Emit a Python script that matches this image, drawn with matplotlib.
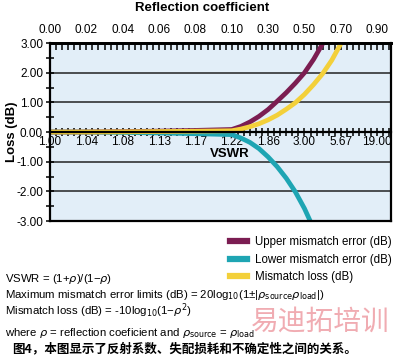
import numpy as np
import matplotlib.pyplot as plt
from matplotlib.ticker import FixedLocator, MultipleLocator, FormatStrFormatter

plt.rcParams['font.family'] = ['Liberation Sans Narrow', 'Liberation Sans', 'DejaVu Sans']

# axis labels (top: reflection coefficient, bottom: matching VSWR)
rho_labels = ['0.00', '0.02', '0.04', '0.06', '0.08', '0.10', '0.30', '0.50', '0.70', '0.90']
vswr_labels = ['1.00', '1.04', '1.08', '1.13', '1.17', '1.22', '1.86', '3.00', '5.67', '19.00']

# curve points, x = position along the reflection-coefficient scale (tick index)
pos = [0, 1, 2, 3, 4, 5, 5.25, 5.5, 5.75, 6, 6.25, 6.5, 6.75, 7, 7.25, 7.5, 7.75, 8]
upper = [0, 0.003, 0.014, 0.031, 0.055, 0.086, 0.19, 0.34, 0.53, 0.76, 1.04, 1.33,
         1.65, 2.0, 2.45, 2.98, 3.6, 4.2]
lower = [0, -0.003, -0.014, -0.031, -0.056, -0.087, -0.20, -0.35, -0.56, -0.84, -1.17,
         -1.56, -2.02, -2.58, -3.25, -3.95, -4.7, -5.5]
loss = [0, 0.002, 0.007, 0.016, 0.028, 0.044, 0.10, 0.18, 0.28, 0.41, 0.57, 0.77,
        0.99, 1.27, 1.60, 1.97, 2.42, 2.98]

purple = '#7b1d52'
teal = '#1ea5b3'
yellow = '#f3d03a'

fig = plt.figure(figsize=(4, 3.62), dpi=100)
ax = fig.add_axes([0.125, 0.3895, 0.8525, 0.4915])
ax.set_facecolor('#e2eef8')

ax.plot(pos, lower, color=teal, lw=3.4, solid_capstyle='butt', zorder=2)
ax.plot(pos, upper, color=purple, lw=3.4, solid_capstyle='butt', zorder=2.1)
ax.plot(pos, loss, color=yellow, lw=3.4, solid_capstyle='butt', zorder=2.2)

ax.set_xlim(0, 9.38)
ax.set_ylim(-3, 3)

for yv in [-2, -1, 1, 2]:
    ax.axhline(yv, color='#222222', lw=1.1, zorder=1)
ax.axhline(-3, color='black', lw=1.6, clip_on=False, zorder=3)

# bottom axis sits on the zero line
ax.spines['bottom'].set_position(('data', 0))
for s in ['left', 'bottom', 'right']:
    ax.spines[s].set_linewidth(1.6)
ax.spines['top'].set_linewidth(2.0)

ax.xaxis.set_major_locator(FixedLocator(range(10)))
ax.xaxis.set_minor_locator(MultipleLocator(1 / 6))
ax.set_xticklabels(vswr_labels)
ax.tick_params(axis='x', which='both', direction='inout', length=6, width=1.1,
               labelsize=8.5, pad=0)

ax.yaxis.set_major_locator(MultipleLocator(1))
ax.yaxis.set_minor_locator(MultipleLocator(0.5))
ax.yaxis.set_major_formatter(FormatStrFormatter('%.2f'))
ax.tick_params(axis='y', which='both', direction='inout', length=6, width=1.1,
               labelsize=8.5, pad=2)

top = ax.secondary_xaxis('top')
top.xaxis.set_major_locator(FixedLocator(range(10)))
top.xaxis.set_minor_locator(MultipleLocator(1 / 6))
top.set_xticklabels(rho_labels)
top.tick_params(which='both', direction='in', length=5, width=1.1, labelsize=8.5, pad=5)
top.spines['top'].set_linewidth(2.0)

ax.text(4.93, -0.74, 'VSWR', ha='center', va='center', fontsize=9.5, fontweight='bold')
fig.text(0.505, 1 - 8 / 362, 'Reflection coefficient', ha='center', va='center',
         fontsize=9.5, fontweight='bold')
fig.text(0.03, 1 - 132 / 362, 'Loss (dB)', rotation=90, ha='center', va='center',
         fontsize=9.5, fontweight='bold')

# legend
handles = [plt.Line2D([], [], color=c, lw=4.5) for c in [purple, teal, yellow]]
fig.legend(handles, ['Upper mismatch error (dB)', 'Lower mismatch error (dB)',
                     'Mismatch loss (dB)'],
           loc='upper left', bbox_to_anchor=(0.55, 1 - 226 / 362), frameon=False,
           handlelength=1.4, handletextpad=0.7, labelspacing=0.45,
           prop={'family': ['Liberation Sans', 'DejaVu Sans'], 'size': 8.3})

eq_font = ['Liberation Sans', 'DejaVu Sans']
fig.text(0.012, 1 - 279 / 362, 'VSWR = (1+$\\rho$)/(1\u2212$\\rho$)', fontsize=8.2,
         va='center', family=eq_font)
fig.text(0.012, 1 - 295 / 362,
         'Maximum mismatch error limits (dB) = 20log$_{10}$(1\u00b1|$\\rho_{\\rm source}\\rho_{\\rm load}$|)',
         fontsize=8.2, va='center', family=eq_font)
fig.text(0.012, 1 - 311 / 362, 'Mismatch loss (dB) = -10log$_{10}$(1\u2212$\\rho^2$)',
         fontsize=8.2, va='center', family=eq_font)
fig.text(0.012, 1 - 333 / 362,
         'where $\\rho$ = reflection coeficient and $\\rho_{\\rm source}$ = $\\rho_{\\rm load}$',
         fontsize=8.2, va='center', family=eq_font)

# watermark
fig.text(0.80, 1 - 322 / 362, '易迪拓培训', fontsize=20, color='#e35a66', alpha=0.5,
         ha='center', va='center', family=['Noto Sans CJK SC'])

fig.text(0.03, 1 - 349 / 362, '图4，本图显示了反射系数、失配损耗和不确定性之间的关系。',
         fontsize=9, va='center', family=['Noto Sans CJK SC', 'DejaVu Sans'],
         fontweight='bold')

fig.savefig('out.png', dpi=100)
